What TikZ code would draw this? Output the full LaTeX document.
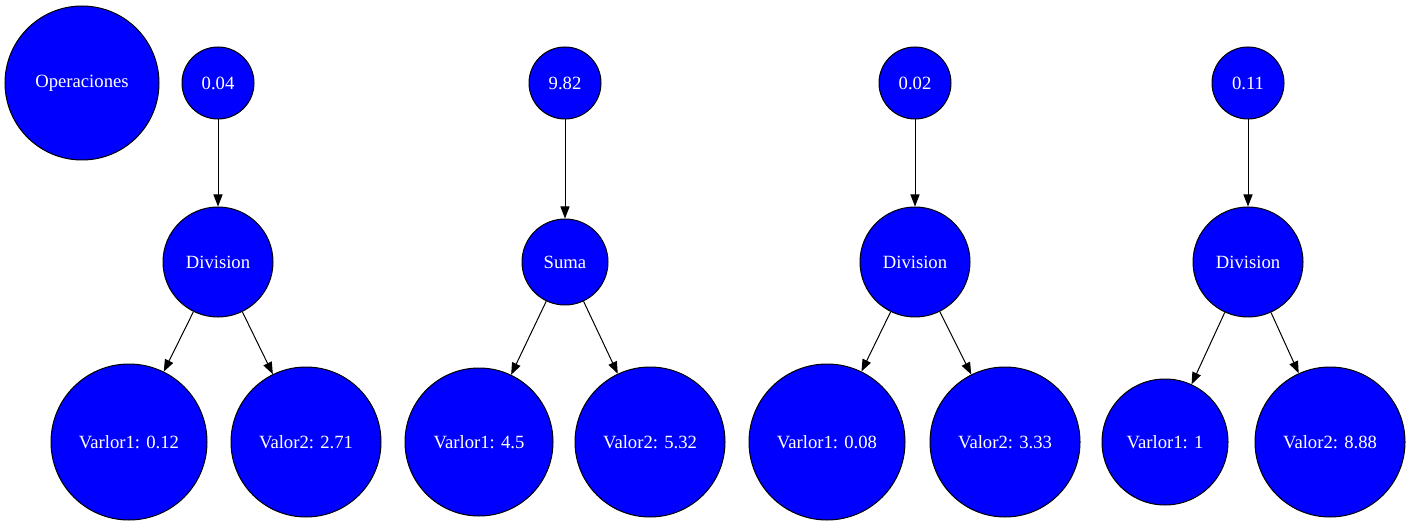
\documentclass[tikz,border=0pt]{standalone}
\usepackage{fontspec}
\setmainfont{Liberation Serif}
\usetikzlibrary{arrows.meta}
\begin{document}
\begin{tikzpicture}[x=0.75pt,y=-0.75pt,
  nd/.style={circle,draw=black,fill=blue,text=white,line width=0.75pt,inner sep=0pt,
    font=\fontsize{14pt}{16pt}\selectfont},
  ar/.style={line width=0.75pt,-{Triangle[length=9pt,width=6.8pt]}}]
\useasboundingbox (0,0) rectangle (1410,527);
\newcommand{\cn}[5]{\node[nd,minimum size=#4*0.75pt] (#1) at (#2,#3) {#5};}
\cn{op}{82}{83}{154}{Operaciones}
% tree 1
\cn{a0}{218}{83}{72}{0.04}
\cn{a1}{218}{262}{110}{Division}
\cn{a2}{129}{442}{156}{Varlor1: 0.12}
\cn{a3}{306}{442}{150}{Valor2: 2.71}
% tree 2
\cn{b0}{565}{83}{72}{9.82}
\cn{b1}{565}{262}{86}{Suma}
\cn{b2}{479}{442}{148}{Varlor1: 4.5}
\cn{b3}{650}{442}{150}{Valor2: 5.32}
% tree 3
\cn{c0}{915}{83}{72}{0.02}
\cn{c1}{915}{262}{110}{Division}
\cn{c2}{827}{442}{156}{Varlor1: 0.08}
\cn{c3}{1005}{442}{150}{Valor2: 3.33}
% tree 4
\cn{d0}{1248}{83}{72}{0.11}
\cn{d1}{1248}{262}{110}{Division}
\cn{d2}{1165}{442}{126}{Varlor1: 1}
\cn{d3}{1330}{442}{150}{Valor2: 8.88}
\foreach \t in {a,b,c,d}{
  \draw[ar] (\t0) -- (\t1);
  \draw[ar] (\t1) -- (\t2);
  \draw[ar] (\t1) -- (\t3);
}
\end{tikzpicture}
\end{document}
